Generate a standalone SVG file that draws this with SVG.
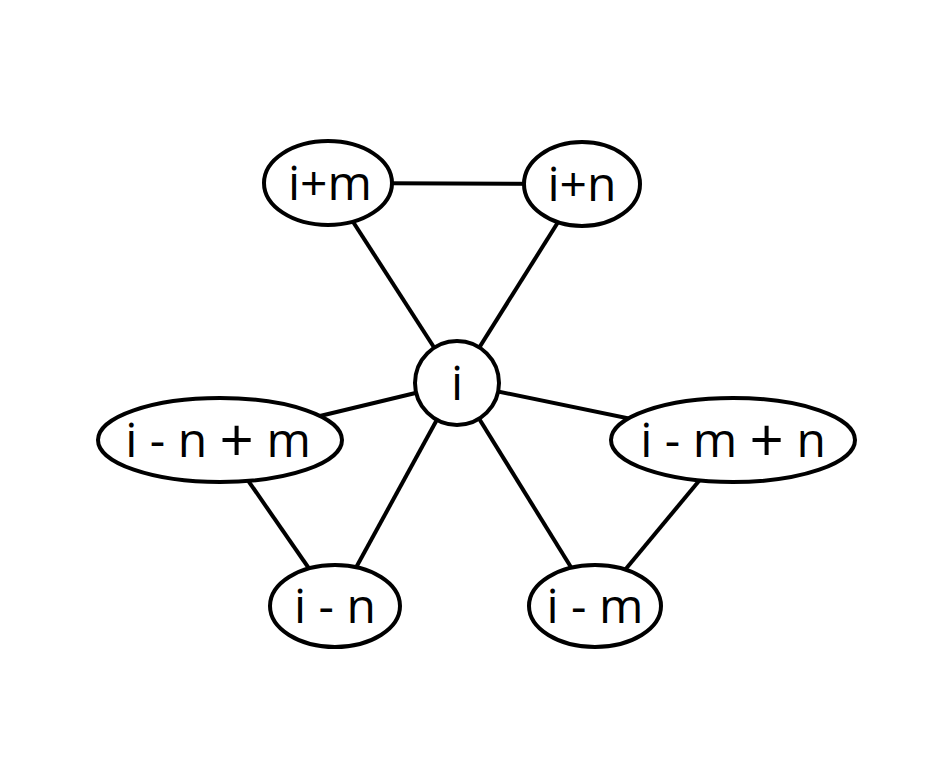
<svg xmlns="http://www.w3.org/2000/svg" width="938" height="758" viewBox="0 0 938 758">
<style>
.n{fill:#fff;stroke:#000;stroke-width:4}
.e{stroke:#000;stroke-width:4;fill:none}
text{font-family:"Open Sans","DejaVu Sans",sans-serif;font-size:48px;text-anchor:middle;fill:#000}
.p{font-size:60px;baseline-shift:-5px}
</style>
<rect width="938" height="758" fill="#fff"/>
<g id="edges">
<line class="e" x1="328" y1="183" x2="582" y2="184"/>
<line class="e" x1="328" y1="183" x2="457" y2="383"/>
<line class="e" x1="582" y1="184" x2="457" y2="383"/>
<line class="e" x1="457" y1="383" x2="220" y2="440"/>
<line class="e" x1="457" y1="383" x2="733" y2="440"/>
<line class="e" x1="457" y1="383" x2="335" y2="606"/>
<line class="e" x1="457" y1="383" x2="595" y2="606"/>
<line class="e" x1="220" y1="440" x2="335" y2="606"/>
<line class="e" x1="733" y1="440" x2="595" y2="606"/>
</g>
<g id="n_im"><ellipse class="n" cx="328" cy="183" rx="64" ry="42"/><text x="330" y="200">i+m</text></g>
<g id="n_in"><ellipse class="n" cx="582" cy="184" rx="58" ry="42"/><text x="582" y="201">i+n</text></g>
<g id="n_i"><circle class="n" cx="457" cy="383" r="42"/><text x="457" y="400">i</text></g>
<g id="n_inm"><ellipse class="n" cx="220" cy="440" rx="122" ry="42"/><text x="218" y="457">i - n <tspan class="p">+</tspan> m</text></g>
<g id="n_imn"><ellipse class="n" cx="733" cy="440" rx="122" ry="42"/><text x="733" y="457">i - m <tspan class="p">+</tspan> n</text></g>
<g id="n_i_n"><ellipse class="n" cx="335" cy="606" rx="65" ry="41"/><text x="335" y="623">i - n</text></g>
<g id="n_i_m"><ellipse class="n" cx="595" cy="606" rx="66" ry="41"/><text x="595" y="623">i - m</text></g>
</svg>
